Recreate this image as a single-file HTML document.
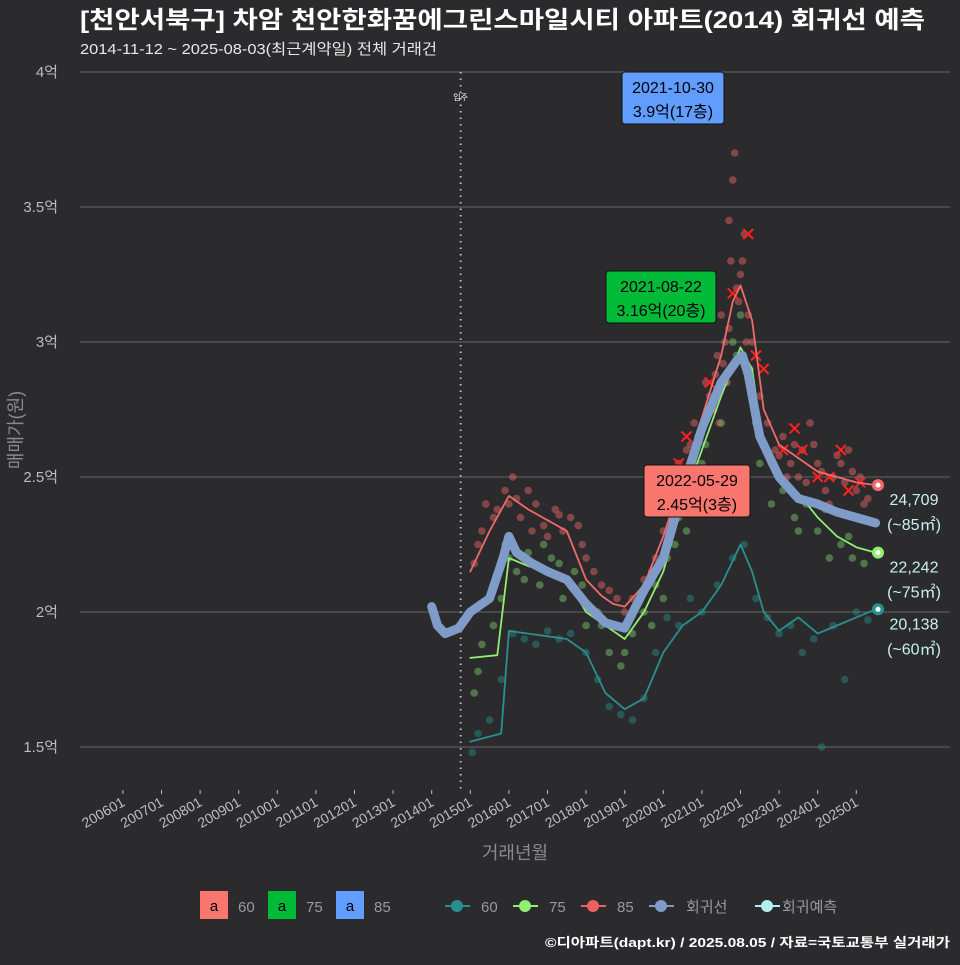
<!DOCTYPE html>
<html><head><meta charset="utf-8"><style>
html,body{margin:0;padding:0;background:#2b2b2d;}
svg text{font-family:"Liberation Sans","Noto Sans CJK KR",sans-serif;}
</style></head><body>
<svg id="chart" width="960" height="960" xmlns="http://www.w3.org/2000/svg">
<rect x="0" y="0" width="960" height="960" fill="#2b2b2d"/>
<text x="80" y="28" fill="#ffffff" font-size="24" font-weight="bold" textLength="845" lengthAdjust="spacingAndGlyphs">[천안서북구] 차암 천안한화꿈에그린스마일시티 아파트(2014) 회귀선 예측</text>
<text x="80" y="54" fill="#e8e8e8" font-size="15" textLength="357" lengthAdjust="spacingAndGlyphs">2014-11-12 ~ 2025-08-03(최근계약일) 전체 거래건</text>
<g id="grid"></g>
<g id="marks"></g>
<text transform="translate(22,430) rotate(-90)" text-anchor="middle" fill="#8a8a8a" font-size="18">매매가(원)</text>
<text x="515" y="859" text-anchor="middle" fill="#8a8a8a" font-size="18">거래년월</text>
<g id="legend">
  <rect x="200" y="891" width="28" height="28" fill="#f8766d"/>
  <text x="214" y="911" text-anchor="middle" font-size="15" fill="#000">a</text>
  <text x="238" y="912" font-size="15" fill="#999">60</text>
  <rect x="268" y="891" width="28" height="28" fill="#00ba38"/>
  <text x="282" y="911" text-anchor="middle" font-size="15" fill="#000">a</text>
  <text x="306" y="912" font-size="15" fill="#999">75</text>
  <rect x="336" y="891" width="28" height="28" fill="#619cff"/>
  <text x="350" y="911" text-anchor="middle" font-size="15" fill="#000">a</text>
  <text x="374" y="912" font-size="15" fill="#999">85</text>
  <g><line x1="445" y1="906" x2="470" y2="906" stroke="#2a8f8f" stroke-width="2"/><circle cx="457" cy="906" r="6" fill="#2a8f8f"/></g>
  <text x="481" y="912" font-size="15" fill="#999">60</text>
  <g><line x1="513" y1="906" x2="538" y2="906" stroke="#90ee70" stroke-width="2"/><circle cx="525" cy="906" r="6" fill="#90ee70"/></g>
  <text x="549" y="912" font-size="15" fill="#999">75</text>
  <g><line x1="581" y1="906" x2="606" y2="906" stroke="#f06060" stroke-width="2"/><circle cx="593" cy="906" r="6" fill="#f06060"/></g>
  <text x="617" y="912" font-size="15" fill="#999">85</text>
  <g><line x1="649" y1="906" x2="674" y2="906" stroke="#7f9cc8" stroke-width="2"/><circle cx="661" cy="906" r="6" fill="#7f9cc8"/></g>
  <text x="686" y="912" font-size="15" fill="#999">회귀선</text>
  <g><line x1="755" y1="906" x2="780" y2="906" stroke="#b0f0f0" stroke-width="2"/><circle cx="767" cy="906" r="6" fill="#b0f0f0"/></g>
  <text x="782" y="912" font-size="15" fill="#999">회귀예측</text>
</g>
<text x="950" y="947" text-anchor="end" font-size="13" font-weight="bold" fill="#ffffff" textLength="405" lengthAdjust="spacingAndGlyphs">©디아파트(dapt.kr) / 2025.08.05 / 자료=국토교통부 실거래가</text>
</svg>
<script>
const yTicks=[1.5,2,2.5,3,3.5,4];
const yTickLabels=["1.5억","2억","2.5억","3억","3.5억","4억"];
const xTickYears=[2006,2007,2008,2009,2010,2011,2012,2013,2014,2015,2016,2017,2018,2019,2020,2021,2022,2023,2024,2025];
const xTickLabels=["200601","200701","200801","200901","201001","201101","201201","201301","201401","201501","201601","201701","201801","201901","202001","202101","202201","202301","202401","202501"];
const tRed=[2015.0,2015.5,2016.0,2016.5,2017.0,2017.5,2018.0,2018.4,2018.7,2019.0,2019.5,2020.0,2020.5,2021.0,2021.5,2021.8,2022.0,2022.3,2022.6,2023.0,2023.5,2024.0,2024.5,2025.0,2025.5];
const vRed=[2.15,2.30,2.43,2.38,2.34,2.30,2.12,2.06,2.03,2.02,2.10,2.28,2.50,2.72,2.95,3.15,3.21,3.08,2.75,2.62,2.57,2.52,2.50,2.48,2.47];
const tGreen=[2015.0,2015.7,2016.0,2016.5,2017.0,2017.5,2018.0,2018.5,2019.0,2019.5,2020.0,2020.5,2021.0,2021.5,2022.0,2022.3,2022.6,2023.0,2023.5,2024.0,2024.5,2025.0,2025.5];
const vGreen=[1.83,1.84,2.20,2.17,2.15,2.12,2.00,1.95,1.90,2.00,2.15,2.40,2.60,2.80,2.98,2.90,2.60,2.50,2.44,2.35,2.28,2.24,2.22];
const tTeal=[2015.0,2015.8,2016.0,2016.5,2017.0,2017.5,2018.0,2018.5,2019.0,2019.5,2020.0,2020.5,2021.0,2021.5,2022.0,2022.3,2022.6,2023.0,2023.5,2024.0,2024.5,2025.0,2025.5];
const vTeal=[1.52,1.55,1.93,1.92,1.91,1.90,1.85,1.70,1.64,1.68,1.85,1.95,2.00,2.10,2.25,2.15,2.00,1.93,1.98,1.92,1.95,1.98,2.01];
const tReg=[2014.0,2014.15,2014.35,2014.7,2015.0,2015.5,2015.85,2016.0,2016.2,2016.6,2017.0,2017.5,2018.0,2018.5,2019.0,2019.5,2020.0,2020.5,2021.0,2021.5,2021.9,2022.05,2022.2,2022.5,2023.0,2023.5,2024.0,2024.5,2025.0,2025.5];
const vReg=[2.02,1.95,1.92,1.94,2.00,2.05,2.20,2.28,2.22,2.18,2.15,2.12,2.03,1.96,1.94,2.08,2.20,2.45,2.68,2.85,2.93,2.95,2.88,2.65,2.50,2.42,2.40,2.37,2.35,2.33];
const ptRedT=[2015.1,2015.2,2015.4,2015.7,2015.9,2016.1,2016.3,2016.5,2016.7,2016.9,2017.2,2017.4,2017.6,2017.9,2018.2,2018.4,2018.8,2019.2,2019.5,2019.8,2020.0,2020.2,2020.4,2020.6,2020.8,2020.9,2021.1,2021.3,2021.4,2021.5,2021.6,2021.7,2021.75,2021.8,2021.85,2021.9,2022.0,2022.1,2022.2,2022.3,2022.5,2022.7,2022.9,2023.1,2023.3,2023.6,2023.8,2024.0,2024.2,2024.4,2024.6,2024.8,2025.0,2025.2,
 2015.3,2015.6,2016.0,2016.2,2016.6,2017.0,2017.3,2017.8,2018.0,2018.6,2019.0,2019.3,2019.7,2020.1,2020.3,2020.5,2020.7,2021.0,2021.2,2021.35,2021.45,2021.55,2021.65,2021.7,2021.95,2022.05,2022.15,2022.25,2022.4,2022.6,2022.8,2023.0,2023.2,2023.4,2023.5,2023.7,2023.9,2024.1,2024.3,2024.5,2024.7,2024.9,2025.1,2025.3];
const ptRedV=[2.18,2.25,2.40,2.38,2.45,2.50,2.35,2.45,2.40,2.32,2.38,2.30,2.35,2.25,2.15,2.10,2.05,2.05,2.12,2.20,2.30,2.40,2.55,2.60,2.70,2.65,2.85,2.75,2.95,3.10,3.00,3.45,3.30,3.60,3.70,3.20,3.25,3.40,3.10,3.00,2.80,2.70,2.60,2.65,2.55,2.60,2.70,2.55,2.45,2.50,2.55,2.60,2.45,2.40,
 2.30,2.35,2.40,2.42,2.30,2.28,2.36,2.32,2.20,2.08,2.00,2.02,2.15,2.25,2.35,2.45,2.62,2.68,2.80,2.88,2.70,2.92,2.85,3.05,3.15,3.30,3.00,2.90,2.70,2.62,2.55,2.58,2.50,2.62,2.50,2.48,2.62,2.52,2.40,2.58,2.48,2.52,2.50,2.42];
const ptGreenT=[2015.1,2015.3,2015.6,2015.9,2016.2,2016.5,2016.8,2017.1,2017.4,2017.7,2018.0,2018.3,2018.6,2018.9,2019.2,2019.5,2019.8,2020.1,2020.4,2020.7,2021.0,2021.3,2021.6,2021.8,2022.0,2022.2,2022.5,2022.8,2023.1,2023.4,2023.7,2024.0,2024.3,2024.6,2024.9,2025.2,
 2015.2,2015.8,2016.0,2016.4,2016.9,2017.3,2017.9,2018.4,2019.0,2019.7,2020.0,2020.3,2020.6,2020.9,2021.1,2021.5,2021.9,2022.4,2023.0,2023.5,2024.2,2024.8];
const ptGreenV=[1.70,1.88,1.95,2.25,2.15,2.22,2.10,2.20,2.05,2.15,1.95,2.00,1.85,1.80,1.92,2.00,2.10,2.20,2.35,2.45,2.55,2.75,2.85,3.00,3.10,2.90,2.55,2.40,2.45,2.35,2.40,2.30,2.20,2.25,2.20,2.18,
 1.78,2.05,2.20,2.12,2.25,2.18,2.10,1.95,1.85,1.95,2.05,2.25,2.30,2.50,2.62,2.70,2.95,2.70,2.50,2.30,2.38,2.28];
const ptTealT=[2015.05,2015.2,2015.5,2015.8,2016.1,2016.4,2016.7,2017.0,2017.3,2017.6,2018.0,2018.3,2018.6,2018.9,2019.2,2019.5,2019.8,2020.1,2020.4,2020.7,2021.0,2021.4,2021.8,2022.1,2022.4,2022.7,2023.0,2023.3,2023.6,2023.9,2024.1,2024.4,2024.7,2025.0,2025.3];
const ptTealV=[1.48,1.55,1.60,1.75,1.92,1.90,1.88,1.93,1.90,1.92,1.85,1.75,1.65,1.62,1.60,1.68,1.85,1.98,1.95,2.05,2.00,2.10,2.20,2.25,2.05,1.98,1.92,1.95,1.85,1.90,1.50,1.95,1.75,2.00,1.97];
const xRedT=[2020.4,2020.6,2021.2,2021.8,2022.2,2022.4,2022.6,2023.1,2023.4,2023.6,2024.0,2024.3,2024.6,2024.8,2025.1];
const xRedV=[2.55,2.65,2.85,3.18,3.40,2.95,2.90,2.60,2.68,2.60,2.50,2.50,2.60,2.45,2.48];

const X=t=>431.7+(t-2014)*38.6;
const Y=v=>612-(v-2)*270;
const NS="http://www.w3.org/2000/svg";
function mk(tag,attrs,parent){const e=document.createElementNS(NS,tag);for(const k in attrs)e.setAttribute(k,attrs[k]);parent.appendChild(e);return e;}
const grid=document.getElementById('grid'), marks=document.getElementById('marks');
yTicks.forEach((v,i)=>{
  const l=mk('line',{x1:80,x2:950,y1:Y(v),y2:Y(v),stroke:'#5a5a5a','stroke-width':1.2},grid);
  
  
  const t=mk('text',{x:58,y:Y(v)+5,'text-anchor':'end',fill:'#bdbdbd','font-size':15},grid);
  t.textContent=yTickLabels[i];
  
  
});
xTickYears.forEach((yr,i)=>{
  const x=X(yr);
  const tk=mk('line',{x1:x,x2:x,y1:790,y2:794,stroke:'#bdbdbd','stroke-width':1},grid);
  
  
  const t=mk('text',{x:x+3,y:805,'text-anchor':'end',fill:'#bdbdbd','font-size':14,transform:`rotate(-30 ${x+3} 805)`},grid);
  t.textContent=xTickLabels[i];
  
  
});
const vl=mk('line',{x1:X(2014.75),x2:X(2014.75),y1:72,y2:790,stroke:'#bbbbbb','stroke-width':2,'stroke-dasharray':'1.5 5'},marks);


const vlt=mk('text',{x:X(2014.75),y:100,'text-anchor':'middle',fill:'#ffffff','font-size':8},marks);
vlt.textContent='입주';


function dots(T,V,color,name){T.forEach((t,i)=>{const c=mk('circle',{cx:X(t),cy:Y(V[i]),r:3.8,fill:color,'fill-opacity':0.45},marks);
  
  });}
dots(ptTealT,ptTealV,'#2a8f8f','point-60');
dots(ptGreenT,ptGreenV,'#80d070','point-75');
dots(ptRedT,ptRedV,'#f06a6a','point-85');
xRedT.forEach((t,i)=>{const x=X(t),y=Y(xRedV[i]);
  const p=mk('path',{d:`M${x-5} ${y-5}L${x+5} ${y+5}M${x+5} ${y-5}L${x-5} ${y+5}`,stroke:'#ff2020','stroke-width':2},marks);
  
  });
function line(T,V,color,w,name){const d=T.map((t,i)=>(i?'L':'M')+X(t).toFixed(1)+' '+Y(V[i]).toFixed(1)).join('');
  const p=mk('path',{d:d,fill:'none',stroke:color,'stroke-width':w,'stroke-linejoin':'round','stroke-linecap':'round'},marks);
  
  }
line(tTeal,vTeal,'#2a8f8f',1.8,'line-60');
line(tGreen,vGreen,'#90ee70',1.8,'line-75');
line(tRed,vRed,'#f06a6a',1.8,'line-85');
line(tReg,vReg,'#7f9cc8',9,'regression-line');
const ends=[[vRed[vRed.length-1],'#f06a6a','24,709','(~85㎡)'],[vGreen[vGreen.length-1],'#90ee70','22,242','(~75㎡)'],[vTeal[vTeal.length-1],'#2a8f8f','20,138','(~60㎡)']];
ends.forEach(e=>{const y=Y(e[0]);
  const c=mk('circle',{cx:878,cy:y,r:6,fill:e[1]},marks);
  
  
  const c2=mk('circle',{cx:878,cy:y,r:2.5,fill:'#ffffff'},marks);
  
  
  const t1=mk('text',{x:914,y:y+20,'text-anchor':'middle',fill:'#c8f0f0','font-size':16},marks);t1.textContent=e[2];
  
  
  const t2=mk('text',{x:914,y:y+45,'text-anchor':'middle',fill:'#c8f0f0','font-size':16},marks);t2.textContent=e[3];
  
  });
const notes=[[622,72,102,52,'#619cff','2021-10-30','3.9억(17층)','annotation-max-85'],[606,271,110,52,'#00ba38','2021-08-22','3.16억(20층)','annotation-max-75'],[644,465,106,52,'#f8766d','2022-05-29','2.45억(3층)','annotation-max-60']];
notes.forEach(n=>{const g=mk('g',{},marks);
  
  
  mk('rect',{x:n[0],y:n[1],width:n[2],height:n[3],rx:3,fill:n[4],stroke:'#111','stroke-width':1},g);
  const a=mk('text',{x:n[0]+n[2]/2,y:n[1]+21,'text-anchor':'middle',fill:'#000','font-size':16},g);a.textContent=n[5];
  const b=mk('text',{x:n[0]+n[2]/2,y:n[1]+45,'text-anchor':'middle',fill:'#000','font-size':16},g);b.textContent=n[6];});
</script>
</body></html>
